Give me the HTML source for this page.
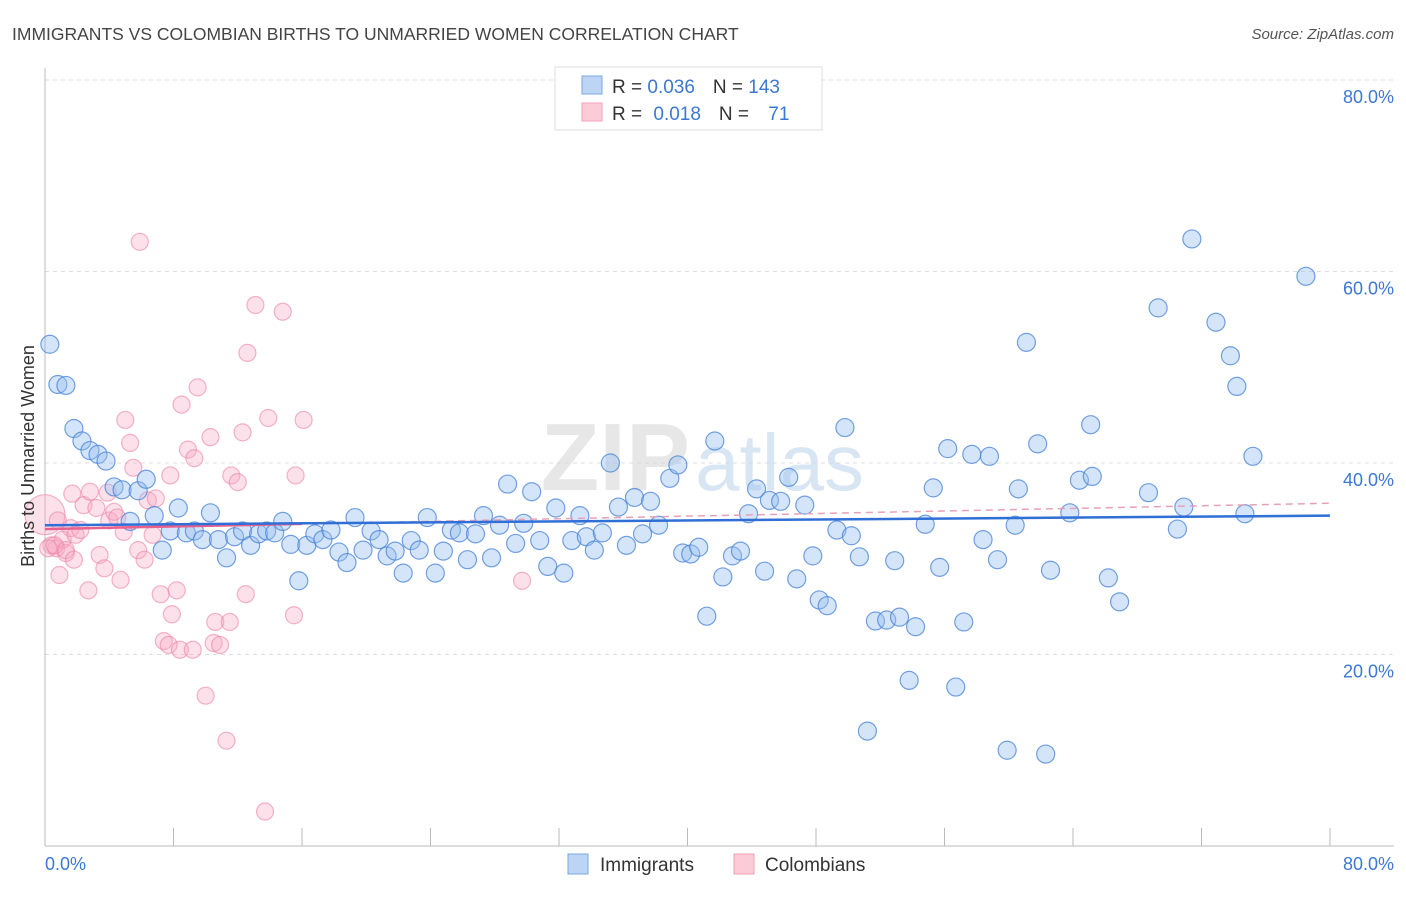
<!DOCTYPE html>
<html><head><meta charset="utf-8">
<style>
body{margin:0;background:#fff;font-family:"Liberation Sans",sans-serif;}
svg text{font-family:"Liberation Sans",sans-serif;}
</style></head>
<body>
<svg id="chart" width="1406" height="892" viewBox="0 0 1406 892" xmlns="http://www.w3.org/2000/svg">
<text x="12" y="40" font-size="17.5" fill="#444">IMMIGRANTS VS COLOMBIAN BIRTHS TO UNMARRIED WOMEN CORRELATION CHART</text>
<text x="1394" y="39" font-size="15" fill="#555" text-anchor="end" font-style="italic">Source: ZipAtlas.com</text>
<g id="grid"></g>
<text x="690" y="490" font-size="96" fill="#d8d8d8" text-anchor="end" font-family="Liberation Serif" font-weight="bold" opacity="0.6">ZIP</text>
<text x="695" y="490" font-size="80" fill="#c8dcf0" opacity="0.7">atlas</text>
<g id="axes"></g>
<g id="pinkPts"></g>
<g id="bluePts"></g>
<g id="trends"></g>
<text transform="translate(34,456) rotate(-90)" font-size="18" fill="#333" text-anchor="middle">Births to Unmarried Women</text>
<g>
<rect x="555" y="67" width="267" height="63" fill="#fff" stroke="#ddd"/>
<rect x="582" y="76" width="20" height="18" fill="#bcd5f5" stroke="#7aa8e0"/>
<rect x="582" y="103" width="20" height="18" fill="#fbcbd8" stroke="#f0a0b8"/>
<text x="612" y="93" font-size="19" fill="#333">R = <tspan fill="#3b78d4">0.036</tspan><tspan dx="18">N = </tspan><tspan fill="#3b78d4">143</tspan></text>
<text x="612" y="120" font-size="19" fill="#333">R = <tspan dx="6" fill="#3b78d4">0.018</tspan><tspan dx="18">N = </tspan><tspan dx="14" fill="#3b78d4">71</tspan></text>
</g>
<g>
<rect x="568" y="854" width="20" height="20" fill="#bcd5f5" stroke="#7aa8e0"/>
<text x="600" y="871" font-size="19" fill="#333">Immigrants</text>
<rect x="734" y="854" width="20" height="20" fill="#fbcbd8" stroke="#f0a0b8"/>
<text x="765" y="871" font-size="19" fill="#333">Colombians</text>
</g>
</svg>
<script>
const blueX=[0.3,0.8,1.3,1.8,2.3,2.8,3.3,3.8,4.3,4.8,5.3,5.8,6.3,6.8,7.3,7.8,8.3,8.8,9.3,9.8,10.3,10.8,11.3,11.8,12.3,12.8,13.3,13.8,14.3,14.8,15.3,15.8,16.3,16.8,17.3,17.8,18.3,18.8,19.3,19.8,20.3,20.8,21.3,21.8,22.3,22.8,23.3,23.8,24.3,24.8,25.3,25.8,26.3,26.8,27.3,27.8,28.3,28.8,29.3,29.8,30.3,30.8,31.3,31.8,32.3,32.8,33.3,33.7,34.2,34.7,35.2,35.7,36.2,36.7,37.2,37.7,38.2,38.9,39.4,39.7,40.2,40.7,41.2,41.7,42.2,42.8,43.3,43.8,44.3,44.8,45.1,45.8,46.3,46.8,47.3,47.8,48.2,48.7,49.3,49.8,50.2,50.7,51.2,51.7,52.4,52.9,53.2,53.8,54.2,54.8,55.3,55.7,56.2,56.7,57.2,57.7,58.4,58.8,59.3,59.9,60.4,60.6,61.1,61.8,62.3,62.6,63.8,64.4,65.1,65.2,66.2,66.9,68.7,69.3,70.5,70.9,71.4,72.9,73.8,74.2,74.7,75.2,78.5];
const blueY=[52.4,48.2,48.1,43.6,42.3,41.3,40.9,40.2,37.5,37.2,33.9,37.1,38.3,34.5,30.9,32.9,35.3,32.7,32.9,32.0,34.8,32.0,30.1,32.3,32.9,31.4,32.6,32.9,32.7,33.9,31.5,27.7,31.4,32.6,32.0,33.0,30.7,29.6,34.3,30.9,32.9,32.0,30.3,30.8,28.5,31.9,30.9,34.3,28.5,30.8,33.0,32.7,29.9,32.6,34.5,30.1,33.5,37.8,31.6,33.7,37.0,31.9,29.2,35.3,28.5,31.9,34.5,32.3,30.9,32.7,40.0,35.4,31.4,36.4,32.6,36.0,33.5,38.4,39.8,30.6,30.5,31.2,24.0,42.3,28.1,30.3,30.8,34.7,37.3,28.7,36.1,36.0,38.5,27.9,35.6,30.3,25.7,25.1,33.0,43.7,32.4,30.2,12.0,23.5,23.6,29.8,23.9,17.3,22.9,33.6,37.4,29.1,41.5,16.6,23.4,40.9,32.0,40.7,29.9,10.0,33.5,37.3,52.6,42.0,9.6,28.8,34.8,38.2,44.0,38.6,28.0,25.5,36.9,56.2,33.1,35.4,63.4,54.7,51.2,48.0,34.7,40.7,59.5];
const pinkX=[0.0,0.4,0.7,0.9,1.1,1.3,1.6,1.7,1.9,2.2,2.4,2.7,2.8,3.2,3.4,3.7,3.9,4.0,4.3,4.5,4.7,4.9,5.0,5.3,5.5,5.8,5.9,6.2,6.4,6.7,6.9,7.2,7.4,7.7,7.8,7.9,8.2,8.4,8.5,8.9,9.2,9.3,9.5,10.0,10.3,10.5,10.6,10.9,11.3,11.5,11.6,12.0,12.3,12.5,12.6,13.1,14.8,13.9,15.5,15.6,16.1,29.7,13.7,0.2,0.6,0.8,1.3,1.8];
const pinkY=[34.6,31.4,31.1,28.3,32.0,30.6,33.2,36.8,32.5,33.0,35.6,26.7,37.0,35.3,30.4,29.0,36.9,34.0,34.9,34.3,27.8,32.8,44.5,42.1,39.5,30.9,63.1,29.9,36.1,32.5,36.3,26.3,21.4,21.0,38.7,24.2,26.7,20.5,46.1,41.4,20.5,40.5,47.9,15.7,42.7,21.2,23.4,21.0,11.0,23.4,38.7,38.0,43.2,26.3,51.5,56.5,55.8,44.7,24.1,38.7,44.5,27.7,3.6,31.1,31.4,34.0,30.9,29.9];
const yTicks=[20,40,60,80];
const yTickLabels=["20.0%","40.0%","60.0%","80.0%"];
const xTicks=[0,8,16,24,32,40,48,56,64,72,80];
const blueTrend=[33.5,34.5];
const pinkTrend=[33.1,35.8];

const NS="http://www.w3.org/2000/svg";
const X0=45,X1=1330,Y0=846,Y80=80;
const sx=v=>X0+(X1-X0)*v/80;
const sy=v=>Y0-(Y0-Y80)*v/80;
function mk(tag,attrs,parent){const e=document.createElementNS(NS,tag);for(const k in attrs)e.setAttribute(k,attrs[k]);parent.appendChild(e);return e;}
const grid=document.getElementById('grid'),axes=document.getElementById('axes');
yTicks.forEach((t,i)=>{
  const l=mk('line',{x1:X0,x2:1394,y1:sy(t),y2:sy(t),stroke:'#ddd','stroke-dasharray':'4,4'},grid);
  
  
  const tx=mk('text',{x:1394,y:sy(t)+23,'font-size':18,fill:'#3b78d4','text-anchor':'end'},axes);
  tx.textContent=yTickLabels[i];
  
  
});
const yl=mk('line',{x1:X0,x2:X0,y1:68,y2:Y0,stroke:'#bbb'},axes);


const xl=mk('line',{x1:X0,x2:1394,y1:Y0,y2:Y0,stroke:'#bbb'},axes);


xTicks.forEach(t=>{
  const tk=mk('line',{x1:sx(t),x2:sx(t),y1:828,y2:Y0,stroke:'#bbb'},axes);
  
  
});
const xa=mk('text',{x:45,y:870,'font-size':18,fill:'#3b78d4'},axes);xa.textContent='0.0%';


const xb=mk('text',{x:1394,y:870,'font-size':18,fill:'#3b78d4','text-anchor':'end'},axes);xb.textContent='80.0%';



const pg=document.getElementById('pinkPts');
pinkX.forEach((x,i)=>{
  const c=mk('circle',{cx:sx(x),cy:sy(pinkY[i]),r:i===0?20:8.5,fill:'rgba(246,170,194,0.35)',stroke:'rgba(236,130,165,0.6)','stroke-width':1.2},pg);
  
  
});
const bg=document.getElementById('bluePts');
blueX.forEach((x,i)=>{
  const c=mk('circle',{cx:sx(x),cy:sy(blueY[i]),r:9,fill:'rgba(150,190,240,0.4)',stroke:'rgba(70,130,215,0.75)','stroke-width':1.2},bg);
  
  
});
const tg=document.getElementById('trends');
const pt=v=>pinkTrend[0]+(pinkTrend[1]-pinkTrend[0])*v/80;
const p1=mk('line',{x1:sx(0),y1:sy(pt(0)),x2:sx(16),y2:sy(pt(16)),stroke:'#e8608c','stroke-width':2.5},tg);


const p2=mk('line',{x1:sx(16),y1:sy(pt(16)),x2:sx(80),y2:sy(pt(80)),stroke:'#e8a0b8','stroke-width':1.5,'stroke-dasharray':'7,5'},tg);


const b1=mk('line',{x1:sx(0),y1:sy(blueTrend[0]),x2:sx(80),y2:sy(blueTrend[1]),stroke:'#2f6fd6','stroke-width':2.5},tg);


</script>
</body></html>
